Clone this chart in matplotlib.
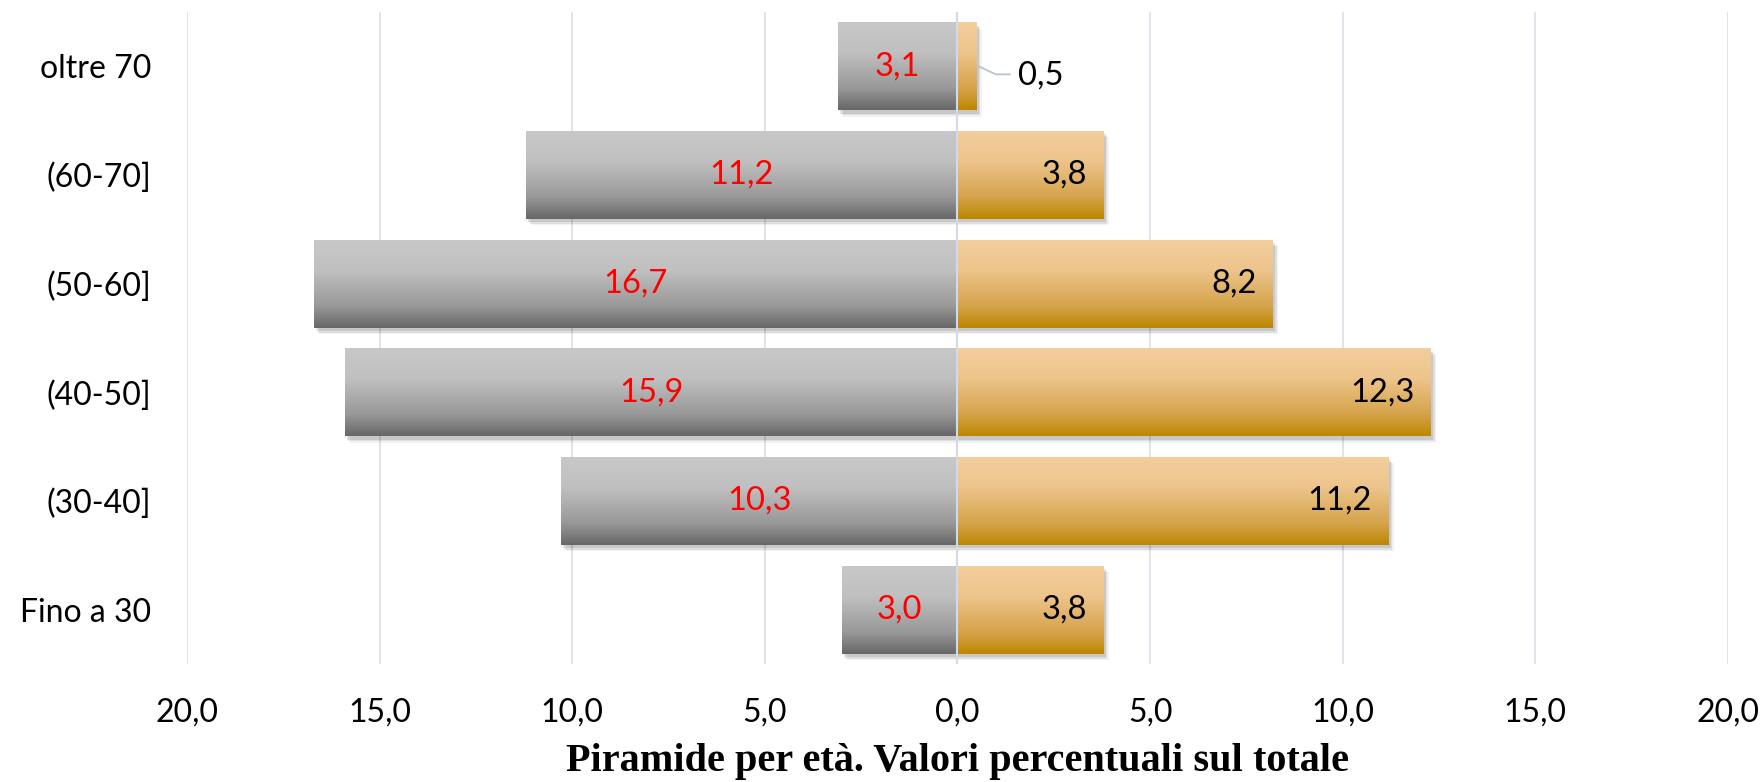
import numpy as np
import matplotlib
matplotlib.use("Agg")
import matplotlib.pyplot as plt
import matplotlib.patheffects as pe
from matplotlib.colors import to_rgb

# ---- data ----
categories = ["Fino a 30", "(30-40]", "(40-50]", "(50-60]", "(60-70]", "oltre 70"]
left_values = [3.0, 10.3, 15.9, 16.7, 11.2, 3.1]     # grey bars (drawn to the left)
right_values = [3.8, 11.2, 12.3, 8.2, 3.8, 0.5]      # orange bars (drawn to the right)
tick_values = [-20, -15, -10, -5, 0, 5, 10, 15, 20]
title = "Piramide per età. Valori percentuali sul totale"

def fmt(v):
    return f"{abs(v):.1f}".replace(".", ",")

plt.rcParams["font.family"] = ["Lato", "DejaVu Sans"]

W, H = 1765, 782
fig = plt.figure(figsize=(W / 100, H / 100), dpi=100)
ax = fig.add_axes([187 / W, 1 - 664 / H, (1728 - 187) / W, (664 - 12) / H])

y = np.arange(len(categories))
bar_h = 0.81

grey_stops = [(0.0, "#C8C8C8"), (0.35, "#C0C0C0"), (0.75, "#999999"), (1.0, "#676767")]
orange_stops = [(0.0, "#F3CF9E"), (0.35, "#EDC48B"), (0.75, "#D6A44C"), (1.0, "#BD8700")]

def gradient(stops, n=200):
    t = np.linspace(0, 1, n)
    pos = [s[0] for s in stops]
    cols = np.array([to_rgb(s[1]) for s in stops])
    img = np.stack([np.interp(t, pos, cols[:, k]) for k in range(3)], axis=-1)
    return img[:, None, :]

shadow = [pe.SimplePatchShadow(offset=(1.5, -2.5), shadow_rgbFace="k", alpha=0.10),
          pe.SimplePatchShadow(offset=(2.5, -3.5), shadow_rgbFace="k", alpha=0.08),
          pe.SimplePatchShadow(offset=(3.5, -4.5), shadow_rgbFace="k", alpha=0.05),
          pe.Normal()]

left_bars = ax.barh(y, [-v for v in left_values], height=bar_h, color="#AAAAAA",
                    zorder=2, path_effects=shadow)
right_bars = ax.barh(y, right_values, height=bar_h, color="#E0B060",
                     zorder=2, path_effects=shadow)

g_img = gradient(grey_stops)
o_img = gradient(orange_stops)
for bars, img in ((left_bars, g_img), (right_bars, o_img)):
    for b in bars:
        x0, y0, w, h = b.get_x(), b.get_y(), b.get_width(), b.get_height()
        im = ax.imshow(img, extent=[x0, x0 + w, y0, y0 + h], origin="upper",
                       aspect="auto", zorder=3, interpolation="bilinear")
        im.set_clip_path(b)

ax.set_xlim(tick_values[0], tick_values[-1])
ax.set_ylim(-0.5, len(categories) - 0.5)
ax.set_aspect("auto")

# grid and zero line
ax.set_xticks(tick_values)
ax.set_xticklabels([fmt(t) for t in tick_values])
ax.grid(axis="x", color="#D9DEE6", linewidth=1.2, zorder=0)
ax.set_axisbelow(True)
ax.axvline(0, color="#D3DAE4", linewidth=1.5, zorder=5)
for s in ax.spines.values():
    s.set_visible(False)
ax.tick_params(axis="x", length=0, pad=24, labelsize=23, labelcolor="black")
ax.set_yticks(y)
ax.set_yticklabels(categories)
ax.tick_params(axis="y", length=0, pad=26, labelsize=23, labelcolor="black")

# data labels
for b, v in zip(left_bars, left_values):
    ax.text(b.get_x() + b.get_width() / 2, b.get_y() + b.get_height() / 2, fmt(v),
            ha="center", va="center", color="#FF0000", fontsize=23.5, zorder=6)

fig.canvas.draw()
for b, v in zip(right_bars, right_values):
    yc = b.get_y() + b.get_height() / 2
    if v >= 2:
        xd, yd = ax.transData.transform((v, yc))
        xt, _ = ax.transData.inverted().transform((xd - 17, yd))
        ax.text(xt, yc, fmt(v), ha="right", va="center", color="black", fontsize=23.5, zorder=6)
    else:
        xd, yd = ax.transData.transform((v, yc))
        pts = [(xd + 2, yd), (xd + 19, yd - 8), (xd + 33, yd - 8)]
        dpts = ax.transData.inverted().transform(pts)
        ax.plot(dpts[:, 0], dpts[:, 1], color="#B8C3D2", linewidth=1.3, zorder=6)
        xt, yt = ax.transData.inverted().transform((xd + 41, yd - 9))
        ax.text(xt, yt, fmt(v), ha="left", va="center", color="black", fontsize=23.5, zorder=6)

fig.text(957.5 / W, 1 - 762 / H, title, ha="center", va="center",
         family=["Liberation Serif", "DejaVu Serif"], fontweight="bold", fontsize=29)

fig.savefig("out.png", dpi=100, facecolor="white")
